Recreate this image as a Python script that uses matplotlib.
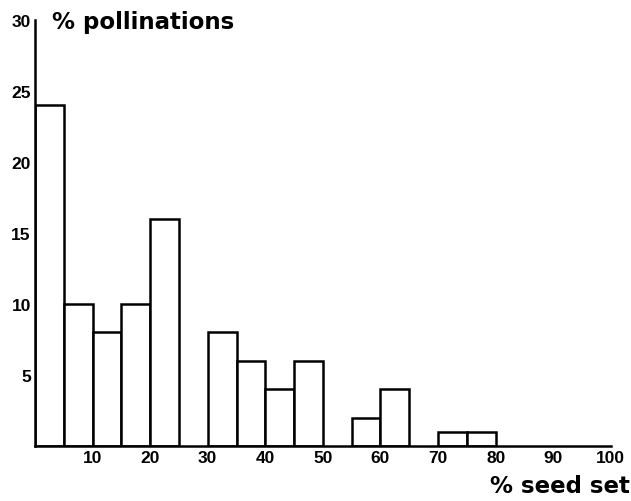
import matplotlib
matplotlib.use("Agg")
import matplotlib.pyplot as plt

# histogram of seed set per pollination class (5 % wide classes)
bin_left = [0, 5, 10, 15, 20, 30, 35, 40, 45, 55, 60, 70, 75]
pct_pollinations = [24, 10, 8, 10, 16, 8, 6, 4, 6, 2, 4, 1, 1]
x_ticks = [10, 20, 30, 40, 50, 60, 70, 80, 90, 100]
y_ticks = [5, 10, 15, 20, 25, 30]

fig = plt.figure(figsize=(6.31, 5.02), dpi=100)
ax = fig.add_axes([0.0555, 0.1096, 0.9125, 0.8484])

ax.bar(bin_left, pct_pollinations, width=5, align="edge",
       facecolor="white", edgecolor="black", linewidth=1.8)

ax.set_xlim(0, 100)
ax.set_ylim(0, 30)
ax.set_xticks(x_ticks)
ax.set_yticks(y_ticks)

tick_font = dict(fontfamily=["Liberation Sans Narrow", "Liberation Sans"],
                 fontweight="bold", fontsize=12.5)
ax.set_xticklabels([str(t) for t in x_ticks], **tick_font)
ax.set_yticklabels([str(t) for t in y_ticks], **tick_font)
ax.tick_params(length=0, pad=3)

for side in ("top", "right"):
    ax.spines[side].set_visible(False)
for side in ("left", "bottom"):
    ax.spines[side].set_linewidth(1.8)

fig.text(0.083, 0.955, "% pollinations", fontsize=16.5, fontweight="bold",
         va="center", ha="left")
fig.text(0.998, 0.03, "% seed set", fontsize=16.5, fontweight="bold",
         va="center", ha="right")

fig.savefig("out.png", dpi=100)
plt.close(fig)
